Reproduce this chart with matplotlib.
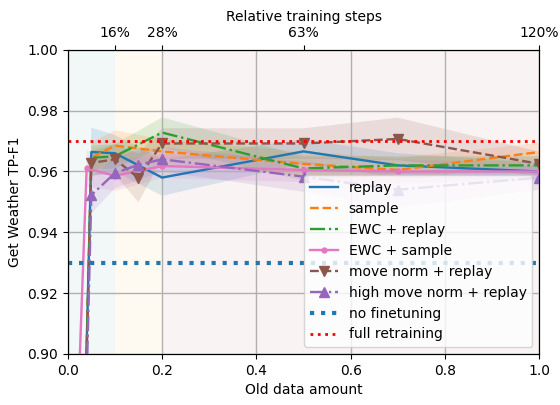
import numpy as np
import matplotlib
matplotlib.use('Agg')
import matplotlib.pyplot as plt

# data
x_std = [0.0, 0.05, 0.1, 0.2, 0.5, 0.7, 1.0]
x_ewc_sample = [0.0, 0.04, 0.1, 0.2, 0.5, 0.7, 1.0]
x_norm = [0.0, 0.05, 0.1, 0.15, 0.2, 0.5, 0.7, 1.0]

replay = [0.645, 0.9664, 0.966, 0.958, 0.9666, 0.962, 0.960]
replay_sd = [0.02, 0.008, 0.006, 0.006, 0.004, 0.004, 0.003]
sample = [0.645, 0.9645, 0.9685, 0.9666, 0.9625, 0.9605, 0.9664]
sample_sd = [0.02, 0.005, 0.005, 0.004, 0.004, 0.004, 0.003]
ewc_replay = [0.645, 0.9645, 0.965, 0.9728, 0.961, 0.962, 0.962]
ewc_replay_sd = [0.02, 0.004, 0.004, 0.005, 0.004, 0.003, 0.003]
ewc_sample = [0.79, 0.961, 0.9586, 0.9618, 0.9605, 0.960, 0.960]
ewc_sample_sd = [0.02, 0.006, 0.005, 0.004, 0.004, 0.004, 0.003]
move_norm = [0.645, 0.9628, 0.964, 0.9579, 0.9692, 0.9692, 0.9707, 0.9625]
move_norm_sd = [0.02, 0.004, 0.005, 0.008, 0.005, 0.005, 0.007, 0.004]
high_move = [0.645, 0.9522, 0.9595, 0.9622, 0.964, 0.9583, 0.954, 0.958]
high_move_sd = [0.02, 0.006, 0.005, 0.005, 0.004, 0.005, 0.006, 0.004]

no_finetuning = 0.930
full_retraining = 0.970

top_ticks = [0.1, 0.2, 0.5, 1.0]
top_labels = ['16%', '28%', '63%', '120%']

fig = plt.figure(figsize=(5.6, 4.05), dpi=100)
ax = fig.add_axes([0.121, 0.126, 0.842, 0.751])

ax.axvspan(0.0, 0.1, facecolor='#f2f8f7', zorder=0)
ax.axvspan(0.1, 0.2, facecolor='#fffaf1', zorder=0)
ax.axvspan(0.2, 1.0, facecolor='#faf3f4', zorder=0)

series = [
    (x_std, replay, replay_sd, 'replay', 'tab:blue', '-', None),
    (x_std, sample, sample_sd, 'sample', 'tab:orange', '--', None),
    (x_std, ewc_replay, ewc_replay_sd, 'EWC + replay', 'tab:green', '-.', None),
    (x_ewc_sample, ewc_sample, ewc_sample_sd, 'EWC + sample', 'tab:pink', '-', 'o'),
    (x_norm, move_norm, move_norm_sd, 'move norm + replay', 'tab:brown', '--', 'v'),
    (x_norm, high_move, high_move_sd, 'high move norm + replay', 'tab:purple', '-.', '^'),
]

for xs, ys, sd, label, c, ls, mk in series:
    xs = np.array(xs)
    ys = np.array(ys)
    sd = np.array(sd)
    ax.fill_between(xs, ys - sd, ys + sd, color=c, alpha=0.15, linewidth=0, zorder=1)
    ms = 3.5 if mk == 'o' else 7
    ax.plot(xs, ys, linestyle=ls, color=c, marker=mk, markersize=ms,
            linewidth=1.7, label=label, zorder=3)

ax.axhline(no_finetuning, color='tab:blue', linestyle=':', linewidth=3, label='no finetuning', zorder=3)
ax.axhline(full_retraining, color='red', linestyle=':', linewidth=2, label='full retraining', zorder=3)

ax.set_xlim(0, 1)
ax.set_ylim(0.9, 1.0)
ax.set_yticks([0.90, 0.92, 0.94, 0.96, 0.98, 1.00])
ax.grid(True, color='#b0b0b0', linewidth=1, zorder=2)
ax.set_axisbelow(False)
ax.set_xlabel('Old data amount')
ax.set_ylabel('Get Weather TP-F1')
ax.legend(loc='lower right', framealpha=0.8)

ax2 = ax.twiny()
ax2.set_xlim(0, 1)
ax2.set_xticks(top_ticks)
ax2.set_xticklabels(top_labels)
ax2.set_xlabel('Relative training steps')

fig.savefig('out.png', dpi=100)
